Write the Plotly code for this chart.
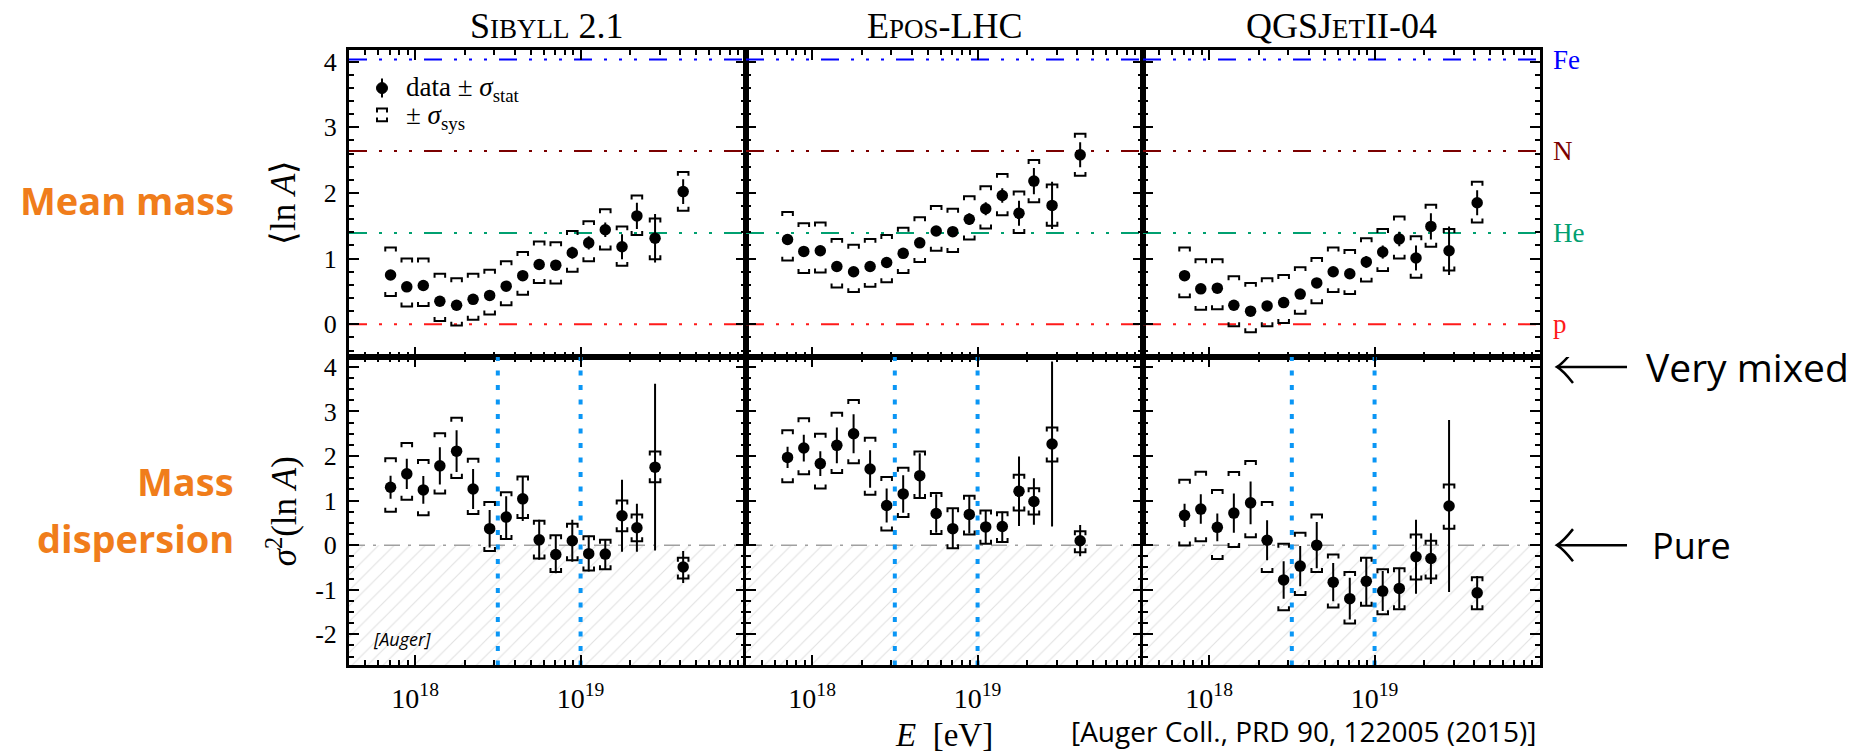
import plotly.graph_objects as go

# ---------------- data ----------------
energy_eV = [7.1e17, 8.9e17, 1.12e18, 1.41e18, 1.78e18, 2.24e18, 2.82e18, 3.55e18, 4.47e18,
             5.62e18, 7.08e18, 8.91e18, 1.12e19, 1.41e19, 1.78e19, 2.19e19, 2.82e19, 4.17e19]

models = ["Sibyll 2.1", "Epos-LHC", "QGSJetII-04"]

# <ln A>
lnA_sibyll = [0.75, 0.57, 0.59, 0.35, 0.29, 0.38, 0.44, 0.58, 0.74, 0.91, 0.90, 1.09, 1.24, 1.44, 1.18, 1.65, 1.31, 2.02]
lnA_sibyll_stat = [0.02, 0.02, 0.02, 0.02, 0.02, 0.03, 0.03, 0.03, 0.05, 0.06, 0.07, 0.09, 0.10, 0.11, 0.19, 0.20, 0.37, 0.19]
lnA_sibyll_syshi = [1.17, 1.00, 1.00, 0.77, 0.70, 0.77, 0.83, 0.96, 1.10, 1.26, 1.25, 1.42, 1.57, 1.75, 1.49, 1.96, 1.61, 2.32]
lnA_sibyll_syslo = [0.43, 0.27, 0.28, 0.05, -0.02, 0.07, 0.15, 0.29, 0.45, 0.63, 0.62, 0.80, 0.96, 1.14, 0.89, 1.36, 0.99, 1.73]

lnA_epos = [1.29, 1.11, 1.12, 0.88, 0.80, 0.88, 0.94, 1.08, 1.24, 1.42, 1.41, 1.60, 1.76, 1.96, 1.69, 2.18, 1.81, 2.58]
lnA_epos_stat = [0.03, 0.03, 0.03, 0.03, 0.03, 0.03, 0.03, 0.04, 0.05, 0.06, 0.07, 0.09, 0.10, 0.11, 0.19, 0.20, 0.36, 0.19]
lnA_epos_syshi = [1.71, 1.54, 1.55, 1.30, 1.21, 1.30, 1.36, 1.47, 1.63, 1.80, 1.76, 1.95, 2.10, 2.29, 2.02, 2.50, 2.13, 2.90]
lnA_epos_syslo = [0.97, 0.78, 0.79, 0.56, 0.49, 0.57, 0.64, 0.78, 0.95, 1.12, 1.10, 1.29, 1.46, 1.66, 1.39, 1.86, 1.50, 2.26]

lnA_qgsjet = [0.74, 0.54, 0.55, 0.29, 0.20, 0.28, 0.33, 0.46, 0.63, 0.80, 0.77, 0.95, 1.10, 1.30, 1.01, 1.49, 1.12, 1.85]
lnA_qgsjet_stat = [0.02, 0.02, 0.02, 0.02, 0.02, 0.03, 0.03, 0.03, 0.05, 0.06, 0.07, 0.09, 0.10, 0.11, 0.19, 0.20, 0.37, 0.19]
lnA_qgsjet_syshi = [1.17, 0.99, 0.99, 0.73, 0.63, 0.70, 0.75, 0.87, 1.01, 1.17, 1.13, 1.31, 1.45, 1.64, 1.34, 1.82, 1.45, 2.17]
lnA_qgsjet_syslo = [0.41, 0.22, 0.23, -0.03, -0.12, -0.03, 0.02, 0.16, 0.32, 0.49, 0.46, 0.65, 0.81, 1.00, 0.71, 1.18, 0.82, 1.55]

# sigma^2(ln A)
var_sibyll = [1.30, 1.60, 1.24, 1.78, 2.11, 1.26, 0.37, 0.63, 1.04, 0.12, -0.21, 0.10, -0.19, -0.20, 0.66, 0.39, 1.75, -0.49]
var_sibyll_stat = [0.26, 0.34, 0.31, 0.42, 0.47, 0.45, 0.42, 0.47, 0.50, 0.45, 0.42, 0.47, 0.40, 0.34, 0.81, 0.54, 1.87, 0.36]
var_sibyll_syshi = [1.95, 2.29, 1.91, 2.51, 2.86, 1.94, 0.97, 1.19, 1.54, 0.55, 0.22, 0.48, 0.20, 0.12, 1.00, 0.69, 2.10, -0.28]
var_sibyll_syslo = [0.75, 1.02, 0.67, 1.16, 1.51, 0.70, -0.13, 0.14, 0.61, -0.30, -0.60, -0.34, -0.57, -0.54, 0.31, 0.09, 1.41, -0.75]

var_epos = [1.97, 2.18, 1.83, 2.24, 2.50, 1.71, 0.89, 1.15, 1.56, 0.71, 0.37, 0.69, 0.41, 0.42, 1.21, 0.98, 2.27, 0.10]
var_epos_stat = [0.24, 0.30, 0.28, 0.40, 0.44, 0.42, 0.38, 0.42, 0.50, 0.43, 0.44, 0.43, 0.38, 0.33, 0.78, 0.52, 1.85, 0.35]
var_epos_syshi = [2.58, 2.85, 2.50, 2.97, 3.26, 2.41, 1.53, 1.74, 2.10, 1.17, 0.83, 1.11, 0.78, 0.74, 1.58, 1.28, 2.64, 0.31]
var_epos_syslo = [1.41, 1.59, 1.27, 1.62, 1.84, 1.13, 0.33, 0.63, 1.06, 0.25, -0.07, 0.24, 0.03, 0.07, 0.78, 0.69, 1.88, -0.16]

var_qgsjet = [0.67, 0.81, 0.40, 0.72, 0.95, 0.11, -0.78, -0.47, 0.00, -0.83, -1.20, -0.81, -1.03, -0.97, -0.26, -0.30, 0.88, -1.07]
var_qgsjet_stat = [0.26, 0.33, 0.31, 0.44, 0.48, 0.45, 0.42, 0.45, 0.52, 0.43, 0.47, 0.54, 0.45, 0.45, 0.83, 0.57, 1.93, 0.38]
var_qgsjet_syshi = [1.47, 1.65, 1.24, 1.64, 1.89, 0.97, 0.03, 0.28, 0.69, -0.21, -0.60, -0.28, -0.54, -0.52, 0.24, 0.10, 1.36, -0.72]
var_qgsjet_syslo = [-0.01, 0.09, -0.31, -0.04, 0.18, -0.60, -1.46, -1.12, -0.60, -1.40, -1.76, -1.36, -1.55, -1.44, -0.77, -0.75, 0.37, -1.44]

# reference nuclei lines
nuclei = ["Fe", "N", "He", "p"]
nuclei_lnA = [4.03, 2.64, 1.39, 0.0]
nuclei_colors = ["#0000ff", "#7b0000", "#00a070", "#ff1a1a"]

# energies marking the dotted divisions in the lower row
division_energies = [3.16e18, 1.0e19]

x_tickvals = [1e18, 1e19]
x_ticktext = ["10<sup>18</sup>", "10<sup>19</sup>"]
x_minor_vals = [4e17, 5e17, 6e17, 7e17, 8e17, 9e17,
                2e18, 3e18, 4e18, 5e18, 6e18, 7e18, 8e18, 9e18,
                2e19, 3e19, 4e19, 5e19, 6e19, 7e19, 8e19, 9e19]
top_yticks = [0, 1, 2, 3, 4]
bot_yticks = [-2, -1, 0, 1, 2, 3, 4]
bot_yticktext = ["-2", "-1", "0", "1", "2", "3", "4"]

# ---------------- layout constants ----------------
W, H = 1860, 755
XLOG = [17.6, 20.0]
XMIN, XMAX = 10 ** XLOG[0], 10 ** XLOG[1]
TOP_RANGE = [-0.5, 4.18]
BOT_RANGE = [-2.7, 4.22]
SERIF = "Liberation Serif"
SANS = "Open Sans"
ORANGE = "#f07d1b"


def X(px):
    return px / W


def Y(py):
    return 1 - py / H


col_dom = [[X(349), X(746)], [X(746), X(1143)], [X(1143), X(1540)]]
top_dom = [Y(355), Y(46)]
bot_dom = [Y(665), Y(355)]

top_data = [
    (lnA_sibyll, lnA_sibyll_stat, lnA_sibyll_syslo, lnA_sibyll_syshi),
    (lnA_epos, lnA_epos_stat, lnA_epos_syslo, lnA_epos_syshi),
    (lnA_qgsjet, lnA_qgsjet_stat, lnA_qgsjet_syslo, lnA_qgsjet_syshi),
]
bot_data = [
    (var_sibyll, var_sibyll_stat, var_sibyll_syslo, var_sibyll_syshi),
    (var_epos, var_epos_stat, var_epos_syslo, var_epos_syshi),
    (var_qgsjet, var_qgsjet_stat, var_qgsjet_syslo, var_qgsjet_syshi),
]

BW = 0.032  # half-width of sys brackets in decades


def brackets(E, lo, hi, tick):
    xs, ys = [], []
    for e, l, h in zip(E, lo, hi):
        xl, xr = e * 10 ** (-BW), e * 10 ** BW
        xs += [xl, xl, xr, xr, None, xl, xl, xr, xr, None]
        ys += [h - tick, h, h, h - tick, None, l + tick, l, l, l + tick, None]
    return xs, ys


REF_DASH = "18px,12px,3px,12px,3px,12px,3px,12px"

fig = go.Figure()


def ax_names(k):
    return ("x" if k == 1 else f"x{k}"), ("y" if k == 1 else f"y{k}")


for c in range(3):
    # ---- top row ----
    k = c + 1
    xa, ya = ax_names(k)
    for name, v, col in zip(nuclei, nuclei_lnA, nuclei_colors):
        fig.add_trace(go.Scatter(x=[XMIN, XMAX], y=[v, v], mode="lines",
                                 line=dict(color=col, width=2, dash=REF_DASH),
                                 xaxis=xa, yaxis=ya, showlegend=False, hoverinfo="skip"))
    vals, stat, lo, hi = top_data[c]
    bx, by = brackets(energy_eV, lo, hi, 0.06)
    fig.add_trace(go.Scatter(x=bx, y=by, mode="lines", line=dict(color="black", width=2),
                             xaxis=xa, yaxis=ya, showlegend=False, hoverinfo="skip"))
    fig.add_trace(go.Scatter(x=energy_eV, y=vals, mode="markers",
                             marker=dict(color="black", size=11.5),
                             error_y=dict(type="data", array=stat, color="black", thickness=2, width=0),
                             xaxis=xa, yaxis=ya, showlegend=False))

    # ---- bottom row ----
    k = c + 4
    xa, ya = ax_names(k)
    fig.add_trace(go.Scatter(x=[XMIN, XMAX, XMAX, XMIN, XMIN], y=[BOT_RANGE[0], BOT_RANGE[0], 0, 0, BOT_RANGE[0]],
                             mode="lines", fill="toself", line=dict(width=0, color="rgba(0,0,0,0)"),
                             fillcolor="white",
                             fillpattern=dict(shape="/", fgcolor="#c4c4c4", bgcolor="white", size=11, solidity=0.1),
                             xaxis=xa, yaxis=ya, showlegend=False, hoverinfo="skip"))
    fig.add_trace(go.Scatter(x=[XMIN, XMAX], y=[0, 0], mode="lines",
                             line=dict(color="#a0a0a0", width=1.5, dash="16px,8px,3px,8px"),
                             xaxis=xa, yaxis=ya, showlegend=False, hoverinfo="skip"))
    for e in division_energies:
        fig.add_trace(go.Scatter(x=[e, e], y=BOT_RANGE, mode="lines",
                                 line=dict(color="#0a96f5", width=4, dash="5px,9.5px"),
                                 xaxis=xa, yaxis=ya, showlegend=False, hoverinfo="skip"))
    vals, stat, lo, hi = bot_data[c]
    bx, by = brackets(energy_eV, lo, hi, 0.09)
    fig.add_trace(go.Scatter(x=bx, y=by, mode="lines", line=dict(color="black", width=2),
                             xaxis=xa, yaxis=ya, showlegend=False, hoverinfo="skip"))
    fig.add_trace(go.Scatter(x=energy_eV, y=vals, mode="markers",
                             marker=dict(color="black", size=11.5),
                             error_y=dict(type="data", array=stat, color="black", thickness=2, width=0),
                             xaxis=xa, yaxis=ya, showlegend=False))

layout = dict(
    width=W, height=H, margin=dict(l=0, r=0, t=0, b=0),
    paper_bgcolor="white", plot_bgcolor="white", showlegend=False,
)

common_axis = dict(showline=True, linecolor="black", linewidth=3, mirror="allticks",
                   ticks="inside", ticklen=10, tickwidth=2, tickcolor="black",
                   showgrid=False, zeroline=False)

for r in range(2):
    for c in range(3):
        k = r * 3 + c + 1
        xkey = "xaxis" if k == 1 else f"xaxis{k}"
        ykey = "yaxis" if k == 1 else f"yaxis{k}"
        xa, ya = ax_names(k)
        layout[xkey] = dict(
            common_axis, type="log", range=XLOG, domain=col_dom[c], anchor=ya,
            tickvals=x_tickvals, ticktext=x_ticktext, showticklabels=(r == 1),
            tickfont=dict(family=SERIF, size=28, color="black"), ticklabelstandoff=6,
            minor=dict(ticks="inside", ticklen=5, tickwidth=1.5, tickcolor="black", tickvals=x_minor_vals),
        )
        if r == 0:
            layout[ykey] = dict(
                common_axis, range=TOP_RANGE, domain=top_dom, anchor=xa,
                tickvals=top_yticks, showticklabels=(c == 0),
                tickfont=dict(family=SERIF, size=26, color="black"), ticklabelstandoff=4,
                minor=dict(ticks="inside", ticklen=5, tickwidth=1.5, tickcolor="black", dtick=0.2),
            )
        else:
            layout[ykey] = dict(
                common_axis, range=BOT_RANGE, domain=bot_dom, anchor=xa,
                tickvals=bot_yticks, ticktext=bot_yticktext, showticklabels=(c == 0),
                tickfont=dict(family=SERIF, size=26, color="black"), ticklabelstandoff=4,
                minor=dict(ticks="inside", ticklen=5, tickwidth=1.5, tickcolor="black", dtick=0.25),
            )

fig.update_layout(**layout)


def note(x, y, text, font, xanchor="center", yanchor="middle", xref="paper", yref="paper", **kw):
    d = dict(x=x, y=y, xref=xref, yref=yref, text=text, showarrow=False,
             xanchor=xanchor, yanchor=yanchor, font=font)
    d.update(kw)
    return d


ann = []
# column titles (small caps imitation)
sc = "<span style='font-size:27px'>%s</span>"
titles = ["S" + sc % "IBYLL" + " 2.1",
          "E" + sc % "POS" + "-LHC",
          "QGSJ" + sc % "ET" + "II-04"]
for c, t in enumerate(titles):
    ann.append(note((col_dom[c][0] + col_dom[c][1]) / 2, Y(44), t,
                    dict(family=SERIF, size=36, color="black"), yanchor="bottom"))

# y-axis titles
ann.append(note(X(284), Y(200), "⟨ln <i>A</i>⟩", dict(family=SERIF, size=35, color="black"), textangle=-90))
ann.append(note(X(282), Y(510), "<i>σ</i><sup>2</sup>(ln <i>A</i>)",
                dict(family=SERIF, size=35, color="black"), textangle=-90))

# orange row labels
ofont = dict(family=SANS, size=38, color=ORANGE, weight=700)
ann.append(note(X(236), Y(197), "Mean mass", ofont, xanchor="right"))
ann.append(note(X(236), Y(480), "Mass", ofont, xanchor="right"))
ann.append(note(X(236), Y(537), "dispersion", ofont, xanchor="right"))

# nuclei labels on the right
for name, v, col in zip(nuclei, nuclei_lnA, nuclei_colors):
    ann.append(note(X(1551), v, name, dict(family=SERIF, size=27, color=col), xanchor="left", yref="y3"))

# arrow labels
ann.append(note(X(1644), 4, "Very mixed", dict(family=SANS, size=39, color="black"), xanchor="left", yref="y6"))
ann.append(note(X(1650), 0, "Pure", dict(family=SANS, size=36, color="black"), xanchor="left", yref="y6"))

# x-axis title and citation
ann.append(note(X(944), Y(735), "<i>E</i>  [eV]", dict(family=SERIF, size=33, color="black")))
ann.append(note(X(1538), Y(731), "[Auger Coll., PRD 90, 122005 (2015)]",
                dict(family=SANS, size=28, color="black"), xanchor="right"))
ann.append(note(X(371), Y(638), "<i>[Auger]</i>", dict(family=SANS, size=18, color="black"), xanchor="left"))

# legend texts
ann.append(note(X(404), Y(85), "data ± <i>σ</i><sub>stat</sub>", dict(family=SERIF, size=27, color="black"),
                xanchor="left"))
ann.append(note(X(404), Y(114), "± <i>σ</i><sub>sys</sub>", dict(family=SERIF, size=27, color="black"),
                xanchor="left"))

shapes = []
# legend keys
shapes.append(dict(type="line", xref="paper", yref="paper", x0=X(382), x1=X(382), y0=Y(75), y1=Y(94),
                   line=dict(color="black", width=2)))
shapes.append(dict(type="circle", xref="paper", yref="paper", x0=X(376.5), x1=X(387.5), y0=Y(79), y1=Y(90),
                   fillcolor="black", line=dict(color="black", width=1)))
shapes.append(dict(type="path", xref="paper", yref="paper",
                   path=f"M {X(377)},{Y(109)} L {X(377)},{Y(105)} L {X(387)},{Y(105)} L {X(387)},{Y(109)}",
                   line=dict(color="black", width=2)))
shapes.append(dict(type="path", xref="paper", yref="paper",
                   path=f"M {X(377)},{Y(114)} L {X(377)},{Y(118)} L {X(387)},{Y(118)} L {X(387)},{Y(114)}",
                   line=dict(color="black", width=2)))

# arrows to the right of the lower row
for yv in (4, 0):
    shapes.append(dict(type="line", xref="paper", yref="y6", x0=X(1558), x1=X(1627), y0=yv, y1=yv,
                       line=dict(color="black", width=2.5)))
    shapes.append(dict(type="path", xref="paper", yref="y6",
                       path=(f"M {X(1573)},{yv + 0.36} Q {X(1563)},{yv + 0.08} {X(1557)},{yv} "
                             f"Q {X(1563)},{yv - 0.08} {X(1573)},{yv - 0.36}"),
                       line=dict(color="black", width=2.5)))

fig.update_layout(annotations=ann, shapes=shapes)
fig.write_html("out.html")
